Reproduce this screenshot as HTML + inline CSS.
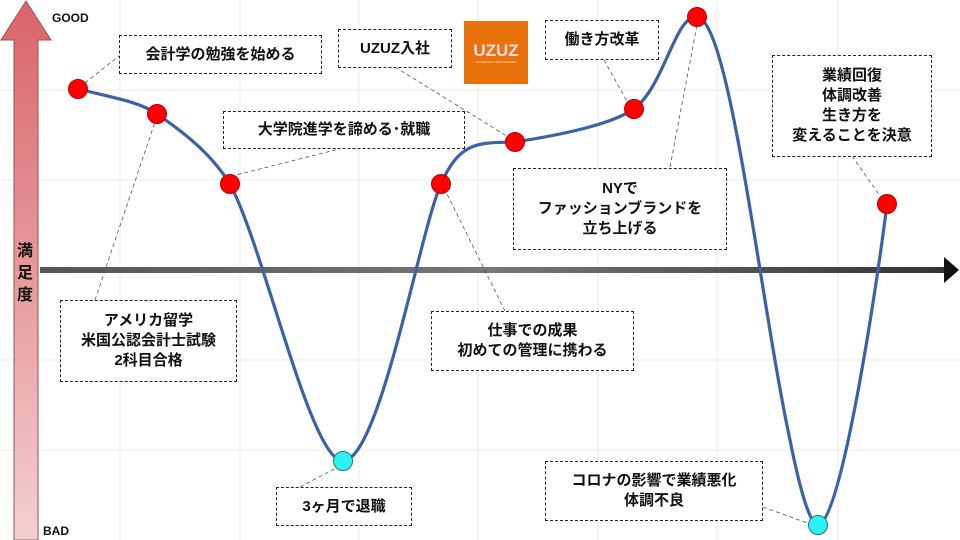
<!DOCTYPE html>
<html><head><meta charset="utf-8"><style>
html,body{margin:0;padding:0;background:#fff}
body{width:960px;height:540px;position:relative;overflow:hidden;font-family:"Liberation Sans","Noto Sans CJK JP",sans-serif}
.b{position:absolute;border:1.3px dashed #222;background:#fff;display:flex;align-items:center;justify-content:center;text-align:center;font-weight:bold;font-size:15px;line-height:20px;color:#111;box-sizing:border-box}
</style></head><body>
<svg width="960" height="540" style="position:absolute;left:0;top:0">
<defs>
<linearGradient id="va" x1="0" y1="0" x2="0" y2="1"><stop offset="0" stop-color="#d9646a"/><stop offset="1" stop-color="#f3cfcf"/></linearGradient>
<linearGradient id="ha" x1="0" y1="0" x2="1" y2="0"><stop offset="0" stop-color="#555"/><stop offset="0.5" stop-color="#777"/><stop offset="1" stop-color="#333"/></linearGradient>
</defs>
<g stroke="#ebebeb" stroke-width="1">
<line x1="120" y1="0" x2="120" y2="540"/><line x1="240" y1="0" x2="240" y2="540"/><line x1="359" y1="0" x2="359" y2="540"/><line x1="478" y1="0" x2="478" y2="540"/><line x1="598" y1="0" x2="598" y2="540"/><line x1="717" y1="0" x2="717" y2="540"/><line x1="838" y1="0" x2="838" y2="540"/>
<line x1="0" y1="90" x2="960" y2="90"/><line x1="0" y1="180" x2="960" y2="180"/><line x1="0" y1="360" x2="960" y2="360"/><line x1="0" y1="450" x2="960" y2="450"/>
</g>
<path d="M14,540 L14,40 L1,40 L26,1 L51,40 L38,40 L38,540 Z" fill="url(#va)" stroke="#a05050" stroke-width="1"/>
<rect x="40" y="267" width="906" height="6" fill="url(#ha)"/>
<path d="M944,257 L959,270 L944,283 Z" fill="#111"/>
<g stroke="#555" stroke-width="0.8" stroke-dasharray="4,3" fill="none">
<line x1="85" y1="83" x2="119" y2="56"/>
<line x1="395" y1="67" x2="510" y2="138"/>
<line x1="343" y1="148" x2="236" y2="175"/>
<line x1="604" y1="60" x2="628" y2="103"/>
<line x1="852" y1="156" x2="880" y2="196"/>
<line x1="670" y1="167" x2="697" y2="25"/>
<line x1="95" y1="300" x2="155" y2="122"/>
<line x1="505" y1="311" x2="446" y2="192"/>
<line x1="300" y1="487" x2="336" y2="468"/>
<line x1="763" y1="507" x2="810" y2="524"/>
</g>
<path d="M78,89 C115,98 140,102 157,114 C195,140 215,160 230,184 C265,250 310,460 343,461 C380,460 420,230 441,184 C460,140 480,143 515,142 C560,135 610,125 634,109 C665,85 675,15 697,17 C730,20 760,300 790,440 C800,490 810,525 818,525 C840,525 875,300 887,204" fill="none" stroke="#3a62a7" stroke-width="3.2"/>
<g fill="#f00" stroke="#b00" stroke-width="1">
<circle cx="78" cy="89" r="9.5"/><circle cx="157" cy="114" r="9.5"/><circle cx="230" cy="184" r="9.5"/><circle cx="441" cy="184" r="9.5"/><circle cx="515" cy="142" r="9.5"/><circle cx="634" cy="109" r="9.5"/><circle cx="697" cy="17" r="9.5"/><circle cx="887" cy="204" r="9.5"/>
</g>
<g fill="#2ef2f2" stroke="#1a7a8a" stroke-width="1"><circle cx="343" cy="461" r="9.5"/><circle cx="818" cy="525" r="9.5"/></g>
<text x="52" y="22" font-family="Liberation Sans" font-weight="bold" font-size="12" fill="#111">GOOD</text>
<text x="43" y="535" font-family="Liberation Sans" font-weight="bold" font-size="12" fill="#111">BAD</text>
<g font-family="Noto Sans CJK JP" font-weight="bold" font-size="16" fill="#111" text-anchor="middle">
<text x="25" y="256">満</text><text x="25" y="278">足</text><text x="25" y="300">度</text>
</g>
<rect x="464" y="21" width="64" height="63" fill="#e8720c"/>
<text x="496" y="56" text-anchor="middle" font-family="Liberation Sans" font-weight="bold" font-size="17" fill="#fde">UZUZ</text>
<text x="496" y="63" text-anchor="middle" font-family="Liberation Sans" font-size="3" fill="#fde">ENTERTAIN YOUR CAREER</text>
</svg>
<div class="b" style="left:119px;top:35px;width:203px;height:39px">会計学の勉強を始める</div>
<div class="b" style="left:338px;top:29px;width:114px;height:39px">UZUZ入社</div>
<div class="b" style="left:223px;top:111px;width:242px;height:38px">大学院進学を諦める･就職</div>
<div class="b" style="left:545px;top:20px;width:114px;height:40px">働き方改革</div>
<div class="b" style="left:772px;top:55px;width:160px;height:102px">業績回復<br>体調改善<br>生き方を<br>変えることを決意</div>
<div class="b" style="left:513px;top:168px;width:214px;height:82px">NYで<br>ファッションブランドを<br>立ち上げる</div>
<div class="b" style="left:60px;top:300px;width:177px;height:82px">アメリカ留学<br>米国公認会計士試験<br>2科目合格</div>
<div class="b" style="left:431px;top:311px;width:203px;height:60px">仕事での成果<br>初めての管理に携わる</div>
<div class="b" style="left:276px;top:487px;width:136px;height:39px">3ヶ月で退職</div>
<div class="b" style="left:545px;top:461px;width:218px;height:60px">コロナの影響で業績悪化<br>体調不良</div>
</body></html>
